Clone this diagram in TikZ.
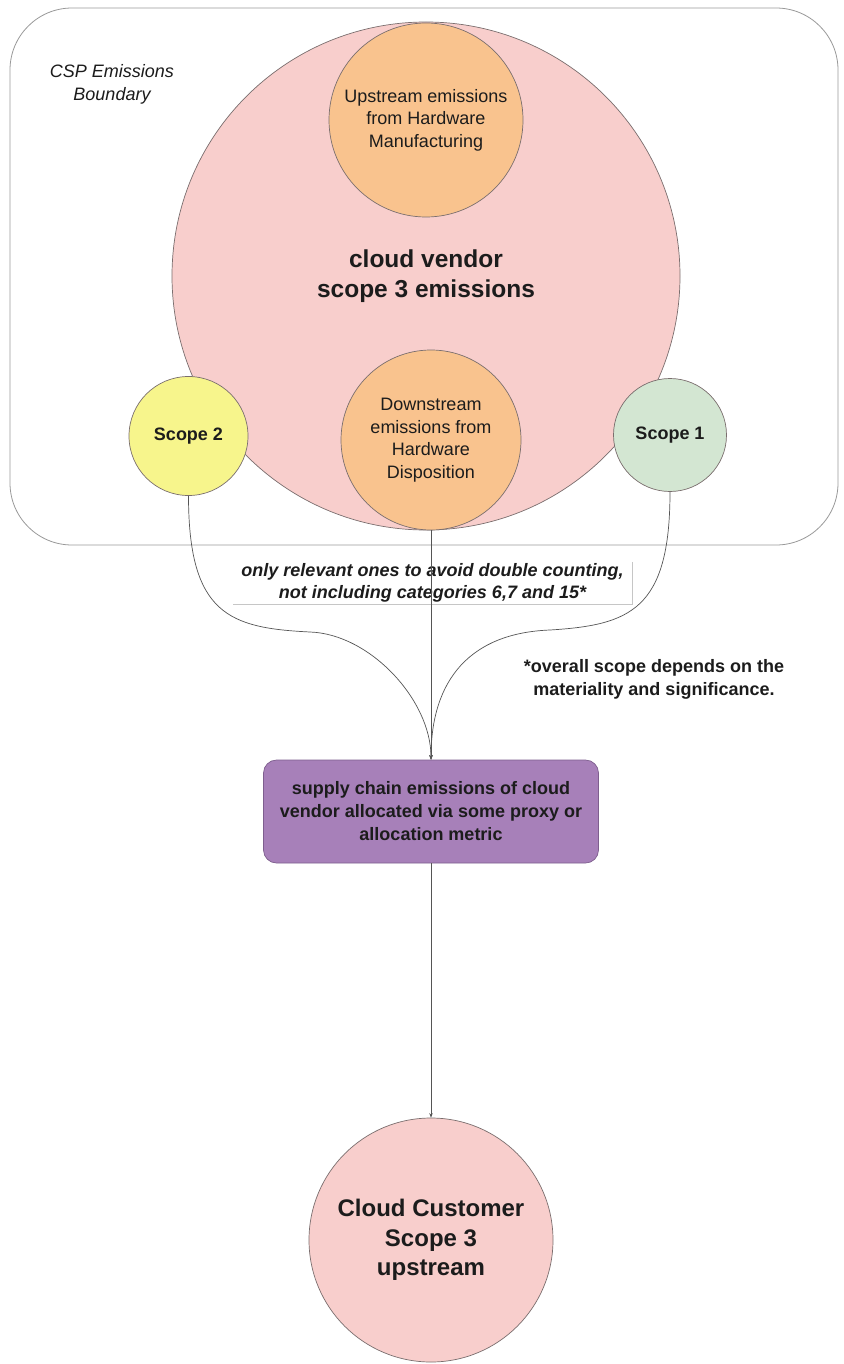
\documentclass[tikz,border=0pt]{standalone}
\usepackage{fontspec}
\setmainfont{Liberation Sans}
\usetikzlibrary{arrows.meta}
\definecolor{pinkfill}{HTML}{F8CECC}
\definecolor{orangefill}{HTML}{F9C38E}
\definecolor{yellowfill}{HTML}{F7F58C}
\definecolor{greenfill}{HTML}{D3E6D2}
\definecolor{purplefill}{HTML}{A780B9}
\definecolor{purpleedge}{HTML}{7E5E8E}
\definecolor{edgegray}{HTML}{7A6E6E}
\definecolor{linegray}{HTML}{555555}
\definecolor{textdark}{HTML}{1C1C1C}
\tikzset{
  conn/.style={draw=linegray, line width=0.7pt},
  tipend/.style={-{Stealth[length=4.5pt,width=3.5pt]}},
  circ/.style={circle, draw=edgegray, line width=0.7pt, inner sep=0pt, align=center, text=textdark},
  regtext/.style={font=\fontsize{18}{22.5}\selectfont},
  boldtext/.style={font=\bfseries\fontsize{18}{23}\selectfont},
  bigbold/.style={font=\bfseries\fontsize{24.5}{29.5}\selectfont},
  boundarybox/.style={draw=gray!80, line width=0.8pt, rounded corners=62pt, inner sep=0pt},
  labelbox/.style={fill=white, minimum width=399pt, minimum height=42pt, inner sep=0pt, align=center, text=textdark, font=\bfseries\itshape\fontsize{18}{21.5}\selectfont},
  shadowline/.style={draw=gray!45, line width=0.7pt},
  purplebox/.style={rectangle, rounded corners=13pt, fill=purplefill, draw=purpleedge, line width=0.7pt, minimum width=335pt, minimum height=103pt, inner sep=0pt, align=center, text=textdark, boldtext}
}
\begin{document}
\begin{tikzpicture}[x=1pt,y=-1pt]
\useasboundingbox (0,0) rectangle (843,1364);
\fill[white] (0,0) rectangle (843,1364);

% boundary
\node[boundarybox, minimum width=828pt, minimum height=537pt] (boundary) at (424,276.5) {};
\node[align=center, text=textdark, font=\itshape\fontsize{18}{22.5}\selectfont] (bndtext) at (112,84.5) {CSP Emissions\\Boundary};

% circles
\node[circ, fill=pinkfill, minimum size=508pt, bigbold] (vendor) at (426,276) {cloud vendor\\scope 3 emissions};
\node[circ, fill=orangefill, minimum size=194pt, regtext] (up) at (426,120) {Upstream emissions\\from Hardware\\Manufacturing};
\node[circ, fill=orangefill, minimum size=180pt, regtext] (down) at (431,440) {Downstream\\emissions from\\Hardware\\Disposition};
\node[circ, fill=yellowfill, minimum size=119pt, boldtext] (s2) at (188.5,436) {Scope 2};
\node[circ, fill=greenfill, minimum size=113pt, boldtext] (s1) at (670,435) {Scope 1};

% label
\node[labelbox] (lbl) at (432.5,583) {only relevant ones to avoid double counting,\\not including categories 6,7 and 15*};
\draw[shadowline] (lbl.north east) -- (lbl.south east) -- (lbl.south west);

% footnote
\node[align=center, text=textdark, boldtext] (note) at (654,679) {*overall scope depends on the\\materiality and significance.};

% purple box
\node[purplebox] (proxy) at (431,811.5) {supply chain emissions of cloud\\vendor allocated via some proxy or\\allocation metric};

% customer
\node[circ, fill=pinkfill, minimum size=244pt, font=\bfseries\fontsize{24}{29.5}\selectfont] (cust) at (431,1240) {Cloud Customer\\Scope 3\\upstream};

% connectors
\draw[conn, tipend] (s2.south) .. controls (188.5,615) and (230,628) .. (310,632) .. controls (370,634) and (431,700) .. (proxy.north);
\draw[conn, tipend] (s1.south) .. controls (670,610) and (630,625) .. (550,630) .. controls (470,633) and (431,680) .. (proxy.north);
\draw[conn, tipend] (down.south) -- (proxy.north);
\draw[conn, tipend] (proxy.south) -- (cust.north);
\end{tikzpicture}
\end{document}
